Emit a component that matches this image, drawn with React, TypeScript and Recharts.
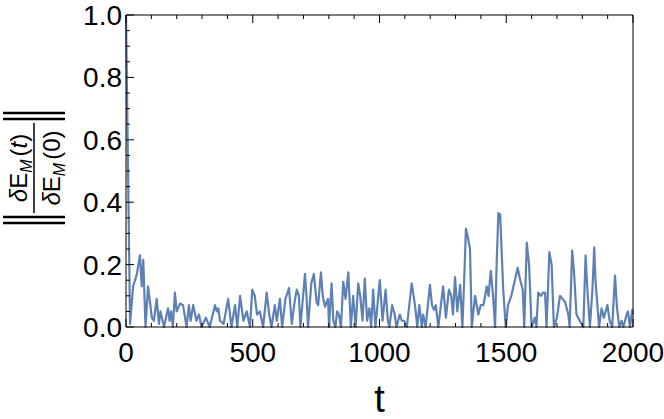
import React from "react";
import { LineChart, Line, XAxis, YAxis } from "recharts";

// times
const times = [
  0, 16, 28, 43, 55, 62, 68, 77, 87, 102, 110, 121, 130, 136, 150, 166, 172, 178, 185, 193,
  200, 213, 225, 239, 248, 255, 265, 278, 288, 298, 315, 330, 351, 358, 364, 371, 385, 403, 416, 430,
  439, 450, 463, 476, 489, 498, 508, 517, 528, 541, 555, 565, 574, 587, 595, 607, 616, 629, 643, 654,
  665, 674, 682, 688, 706, 712, 718, 731, 741, 752, 758, 769, 776, 785, 797, 801, 811, 818, 826, 833,
  840, 848, 857, 866, 877, 887, 896, 906, 916, 924, 933, 942, 951, 960, 964, 967, 975, 984, 1001, 1012,
  1024, 1033, 1039, 1050, 1060, 1067, 1080, 1088, 1097, 1108, 1127, 1140, 1149, 1157, 1167, 1172, 1182, 1199, 1207, 1215,
  1222, 1232, 1251, 1262, 1274, 1283, 1290, 1298, 1307, 1318, 1327, 1334, 1341, 1348, 1357, 1364, 1377, 1390, 1399, 1410,
  1423, 1430, 1439, 1448, 1456, 1462, 1469, 1476, 1488, 1498, 1507, 1520, 1534, 1545, 1555, 1565, 1571, 1581, 1590, 1600,
  1613, 1619, 1626, 1636, 1645, 1653, 1659, 1670, 1679, 1688, 1700, 1712, 1722, 1732, 1745, 1750, 1760, 1767, 1777, 1790,
  1804, 1813, 1820, 1830, 1840, 1847, 1852, 1866, 1876, 1885, 1899, 1908, 1918, 1929, 1937, 1946, 1955, 1962, 1975, 1980,
  1988, 1997, 2000,
];

// ||dE_M(t) / dE_M(0)||
const norms = [
  1.0, 0.01, 0.13, 0.17, 0.23, 0.13, 0.215, 0.0, 0.13, 0.03, 0.02, 0.09, 0.01, 0.05, 0.0, 0.06, 0.02, 0.05, 0.0, 0.11,
  0.05, 0.075, 0.07, 0.0, 0.07, 0.02, 0.07, 0.02, 0.04, 0.0, 0.03, 0.0, 0.07, 0.05, 0.06, 0.02, 0.01, 0.09, 0.0, 0.07,
  0.0, 0.1, 0.02, 0.05, 0.0, 0.12, 0.1, 0.04, 0.05, 0.0, 0.11, 0.04, 0.0, 0.07, 0.02, 0.09, 0.0, 0.09, 0.125, 0.01,
  0.08, 0.12, 0.1, 0.0, 0.17, 0.1, 0.0, 0.14, 0.17, 0.08, 0.07, 0.175, 0.1, 0.065, 0.09, 0.0, 0.14, 0.02, 0.0, 0.05,
  0.04, 0.0, 0.145, 0.09, 0.175, 0.0, 0.1, 0.0, 0.14, 0.1, 0.02, 0.155, 0.02, 0.06, 0.03, 0.0, 0.12, 0.0, 0.15, 0.02,
  0.12, 0.02, 0.0, 0.07, 0.04, 0.0, 0.04, 0.02, 0.02, 0.0, 0.14, 0.07, 0.0, 0.07, 0.0, 0.04, 0.0, 0.135, 0.07, 0.055,
  0.07, 0.0, 0.13, 0.03, 0.12, 0.1, 0.04, 0.16, 0.05, 0.135, 0.0, 0.15, 0.315, 0.29, 0.25, 0.0, 0.1, 0.04, 0.07, 0.07,
  0.13, 0.1, 0.18, 0.1, 0.0, 0.2, 0.365, 0.36, 0.12, 0.0, 0.07, 0.1, 0.15, 0.19, 0.15, 0.12, 0.0, 0.27, 0.2, 0.0,
  0.03, 0.0, 0.11, 0.1, 0.11, 0.11, 0.0, 0.24, 0.2, 0.0, 0.03, 0.1, 0.09, 0.08, 0.04, 0.0, 0.245, 0.18, 0.04, 0.02,
  0.0, 0.23, 0.12, 0.0, 0.12, 0.255, 0.15, 0.0, 0.06, 0.03, 0.07, 0.02, 0.0, 0.165, 0.06, 0.0, 0.02, 0.0, 0.04, 0.05,
  0.0, 0.055, 0.04,
];

const xTicks = [
  0, 100, 200, 300, 400, 500, 600, 700, 800, 900, 1000, 1100, 1200, 1300, 1400, 1500, 1600, 1700, 1800, 1900, 2000,
];
const yTicks = [
  0, 0.05, 0.1, 0.15, 0.2, 0.25, 0.3, 0.35, 0.4, 0.45, 0.5, 0.55, 0.6, 0.65, 0.7, 0.75, 0.8, 0.85, 0.9, 0.95, 1.0,
];

const data = times.map((t, i) => ({ t, v: norms[i] }));

const FONT = "'Liberation Sans', Arial, Helvetica, sans-serif";
const isMajorX = (v: number) => v % 500 === 0;
const isMajorY = (v: number) => Math.round(v * 100) % 20 === 0;

function BottomTick({ x, y, payload }: any) {
  const major = isMajorX(payload.value);
  return (
    <g>
      <line x1={x} y1={y} x2={x} y2={y - (major ? 8 : 4)} stroke="#000" strokeWidth={1} />
      {major && (
        <text x={x} y={y + 35} textAnchor="middle" fontSize={28} fontFamily={FONT} fill="#000">
          {payload.value}
        </text>
      )}
    </g>
  );
}

function TopTick({ x, y, payload }: any) {
  const major = isMajorX(payload.value);
  return <line x1={x} y1={y} x2={x} y2={y + (major ? 8 : 4)} stroke="#000" strokeWidth={1} />;
}

function LeftTick({ x, y, payload }: any) {
  const major = isMajorY(payload.value);
  return (
    <g>
      <line x1={x} y1={y} x2={x + (major ? 8 : 4)} y2={y} stroke="#000" strokeWidth={1} />
      {major && (
        <text x={x - 4} y={y + 10} textAnchor="end" fontSize={28} fontFamily={FONT} fill="#000">
          {payload.value.toFixed(1)}
        </text>
      )}
    </g>
  );
}

function RightTick({ x, y, payload }: any) {
  const major = isMajorY(payload.value);
  return <line x1={x} y1={y} x2={x - (major ? 8 : 4)} y2={y} stroke="#000" strokeWidth={1} />;
}

function NormLabel() {
  const cx = 34;
  const cy = 168;
  return (
    <g transform={`translate(${cx},${cy}) rotate(-90)`} fontFamily={FONT} fill="#000">
      <text x={0} y={-7} textAnchor="middle" fontSize={24}>
        <tspan fontStyle="italic">δ</tspan>E
        <tspan fontSize={16} fontStyle="italic" dy={5}>M</tspan>
        <tspan dy={-5} dx={3}>(</tspan>
        <tspan fontStyle="italic">t</tspan>)
      </text>
      <line x1={-45} y1={0} x2={45} y2={0} stroke="#000" strokeWidth={1.5} />
      <text x={0} y={26} textAnchor="middle" fontSize={24}>
        <tspan fontStyle="italic">δ</tspan>E
        <tspan fontSize={16} fontStyle="italic" dy={5}>M</tspan>
        <tspan dy={-5} dx={3}>(0)</tspan>
      </text>
      {[-55, -49, 49, 55].map((lx) => (
        <line key={lx} x1={lx} y1={-31} x2={lx} y2={31} stroke="#000" strokeWidth={2.5} />
      ))}
    </g>
  );
}

export default function App() {
  return (
    <div style={{ width: 664, height: 419, background: "#fff", position: "relative" }}>
      <style>{`body{margin:0}`}</style>
      <LineChart width={664} height={419} data={data} margin={{ top: 0, right: 0, bottom: 0, left: 0 }}>
        <XAxis
          xAxisId="bottom"
          dataKey="t"
          type="number"
          domain={[0, 2000]}
          ticks={xTicks}
          interval={0}
          height={92}
          tickSize={0}
          tickMargin={0}
          tickLine={false}
          axisLine={{ stroke: "#000" }}
          tick={<BottomTick />}
          label={{ value: "t", position: "insideBottom", offset: 7, fontSize: 38, fontFamily: FONT, fill: "#000" }}
        />
        <XAxis
          xAxisId="top"
          orientation="top"
          dataKey="t"
          type="number"
          domain={[0, 2000]}
          ticks={xTicks}
          interval={0}
          height={15}
          tickSize={0}
          tickMargin={0}
          tickLine={false}
          axisLine={{ stroke: "#000" }}
          tick={<TopTick />}
        />
        <YAxis
          yAxisId="left"
          type="number"
          domain={[0, 1]}
          ticks={yTicks}
          interval={0}
          width={126}
          tickSize={0}
          tickMargin={0}
          tickLine={false}
          axisLine={{ stroke: "#000" }}
          tick={<LeftTick />}
        />
        <YAxis
          yAxisId="right"
          orientation="right"
          type="number"
          domain={[0, 1]}
          ticks={yTicks}
          interval={0}
          width={31}
          tickSize={0}
          tickMargin={0}
          tickLine={false}
          axisLine={{ stroke: "#000" }}
          tick={<RightTick />}
        />
        <Line
          xAxisId="bottom"
          yAxisId="left"
          type="linear"
          dataKey="v"
          stroke="#5E81B5"
          strokeWidth={2.2}
          strokeLinejoin="round"
          dot={false}
          isAnimationActive={false}
        />
      </LineChart>
      <div style={{ position: "absolute", left: 0, top: 0, pointerEvents: "none" }}>
        <svg width={664} height={419}>
          <NormLabel />
        </svg>
      </div>
    </div>
  );
}
